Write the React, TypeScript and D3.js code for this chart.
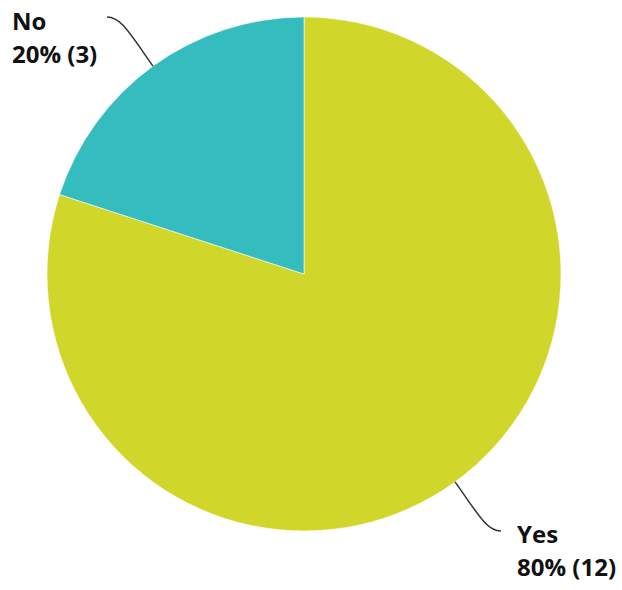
import React from "react";
import * as d3 from "d3";

const categories = ["Yes", "No"];
const values = [12, 3];
const colors = ["#D0D62A", "#35BCBF"];

export default function App() {
  const width = 622;
  const height = 590;
  const cx = 304;
  const cy = 274;
  const r = 257;
  const total = d3.sum(values);
  const pie = d3.pie<number>().sort(null).value((d) => d);
  const arcs = pie(values);
  const arcGen = d3.arc<d3.PieArcDatum<number>>().innerRadius(0).outerRadius(r);

  return (
    <svg width={width} height={height} style={{ position: "absolute", left: 0, top: 0 }}>
      <g transform={`translate(${cx},${cy})`}>
        {arcs.map((a, i) => (
          <path key={i} d={arcGen(a) || ""} fill={colors[i]} stroke="#ffffff" strokeWidth={0.6} />
        ))}
        {arcs.map((a, i) => {
          const mid = (a.startAngle + a.endAngle) / 2;
          const sx = Math.sin(mid) * r;
          const sy = -Math.cos(mid) * r;
          const dir = Math.sin(mid) >= 0 ? 1 : -1;
          const vdir = sy > 0 ? 1 : -1;
          const ex = sx + dir * 46;
          const ey = sy + vdir * 49;
          const c1x = sx + dir * 24;
          const c1y = sy + vdir * 34;
          const c2x = sx + dir * 32;
          const c2y = ey;
          const d = `M${sx},${sy} C${c1x},${c1y} ${c2x},${c2y} ${ex},${ey}`;
          const pct = Math.round((values[i] / total) * 100);
          const tx = dir > 0 ? ex + 16 : ex - 95;
          const ty = dir > 0 ? ey + 12 : ey + 13;
          return (
            <g key={"l" + i}>
              <path d={d} fill="none" stroke="#333" strokeWidth={1.5} />
              <text
                x={tx}
                y={ty}
                fontFamily="'Open Sans', sans-serif"
                fontWeight="bold"
                fontSize={24}
                fill="#111"
              >
                {categories[i]}
              </text>
              <text
                x={tx}
                y={ty + 33}
                fontFamily="'Open Sans', sans-serif"
                fontWeight="bold"
                fontSize={24}
                fill="#111"
              >
                {`${pct}% (${values[i]})`}
              </text>
            </g>
          );
        })}
      </g>
    </svg>
  );
}
